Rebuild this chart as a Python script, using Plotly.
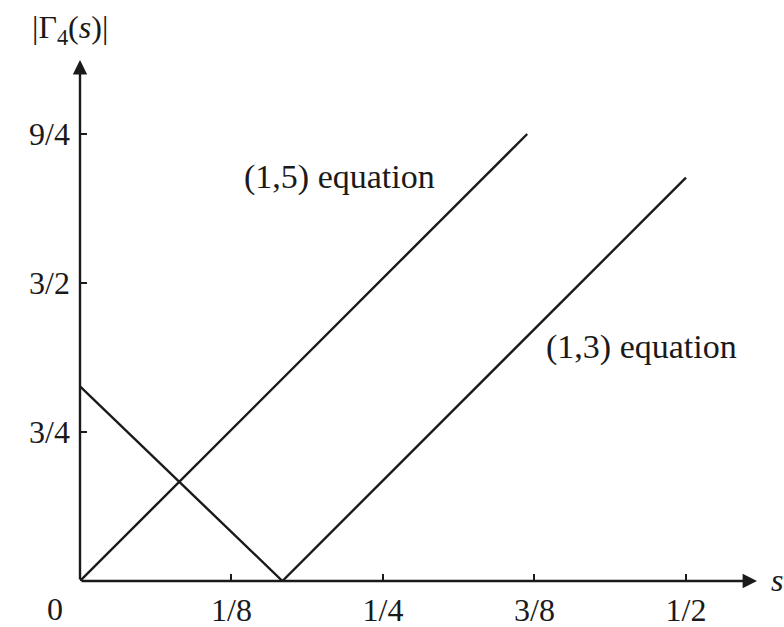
import plotly.graph_objects as go

# Data
s_15 = [0.0, 0.369]          # (1,5) equation branch
g_15 = [0.0, 2.25]
s_dec = [0.0, 0.167]         # descending branch
g_dec = [0.98, 0.0]
s_13 = [0.167, 0.5]          # (1,3) equation branch
g_13 = [0.0, 2.03]

x_tickvals = [0.125, 0.25, 0.375, 0.5]
x_ticktext = ["1/8", "1/4", "3/8", "1/2"]
y_tickvals = [0.75, 1.5, 2.25]
y_ticktext = ["3/4", "3/2", "9/4"]

X_MAX = 0.5586
Y_MAX = 2.6225
FONT = "Liberation Serif"
INK = "#1a1a1a"

fig = go.Figure()
for xs, ys in [(s_15, g_15), (s_dec, g_dec), (s_13, g_13)]:
    fig.add_trace(go.Scatter(x=xs, y=ys, mode="lines",
                             line=dict(color=INK, width=2.4),
                             showlegend=False, hoverinfo="skip", cliponaxis=False))

fig.update_layout(
    width=784, height=627,
    margin=dict(l=80, r=27, t=60, b=46),
    paper_bgcolor="white", plot_bgcolor="white",
    font=dict(family=FONT, color=INK, size=32),
    xaxis=dict(range=[0, X_MAX], showgrid=False, zeroline=False, showline=False,
               automargin=False,
               tickvals=x_tickvals, ticktext=x_ticktext, ticks="inside",
               ticklen=7, tickwidth=1.8, tickcolor=INK,
               tickfont=dict(family=FONT, size=32), ticklabelstandoff=7),
    yaxis=dict(range=[0, Y_MAX], showgrid=False, zeroline=False, showline=False,
               automargin=False,
               tickvals=y_tickvals, ticktext=y_ticktext, ticks="inside",
               ticklen=7, tickwidth=1.8, tickcolor=INK,
               tickfont=dict(family=FONT, size=32), ticklabelstandoff=9),
)

# Axes with arrowheads
fig.add_annotation(x=X_MAX, y=0, ax=0, ay=0, xref="x", yref="y", axref="x", ayref="y",
                   text="", showarrow=True, arrowhead=2, arrowsize=1.2, arrowwidth=2.4,
                   arrowcolor=INK)
fig.add_annotation(x=0, y=Y_MAX, ax=0, ay=0, xref="x", yref="y", axref="x", ayref="y",
                   text="", showarrow=True, arrowhead=2, arrowsize=1.2, arrowwidth=2.4,
                   arrowcolor=INK)

# Text labels
fig.add_annotation(x=0, y=0, xref="x", yref="y", text="0", showarrow=False,
                   xshift=-25, yshift=-28, height=30, borderpad=0, font=dict(size=32))
fig.add_annotation(x=X_MAX, y=0, xref="x", yref="y", text="<i>s</i>", showarrow=False,
                   xshift=20, yshift=1, font=dict(size=32))
fig.add_annotation(x=0, y=Y_MAX, xref="x", yref="y",
                   text="|Γ<sub>4</sub>(<i>s</i>)|", showarrow=False,
                   xshift=-10, yshift=31, font=dict(size=32))
fig.add_annotation(x=0.2145, y=2.033, xref="x", yref="y", text="(1,5) equation",
                   showarrow=False, font=dict(size=34))
fig.add_annotation(x=0.4629, y=1.178, xref="x", yref="y", text="(1,3) equation",
                   showarrow=False, font=dict(size=34))

fig.write_html("out.html")
